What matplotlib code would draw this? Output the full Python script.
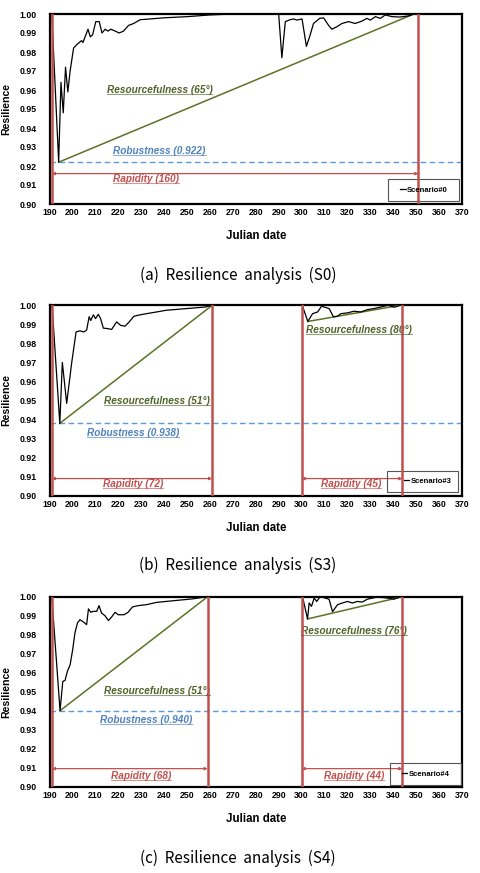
import matplotlib
matplotlib.use("Agg")
import matplotlib.pyplot as plt
from matplotlib.lines import Line2D
from matplotlib.patches import Rectangle

plt.rcParams['font.family'] = ['Liberation Sans', 'DejaVu Sans']

# ---------------- data ----------------
s0_day = [191, 194, 195, 196, 197, 198, 199, 200.5, 202, 204, 204.6, 206.8, 207.8, 208.8,
          210.2, 211.7, 212.9, 214.3, 215.5, 216.8, 218.7, 220.4, 222.3, 224.5, 226.7, 229.6,
          235, 240, 250, 260, 270, 290, 291.4, 292.9, 295, 296.5, 298, 300.2, 302.1, 303.5,
          305.2, 307.9, 309.6, 311.8, 313.2, 315.4, 317.6, 320.5, 323.4, 326.4, 328.5, 330,
          332.2, 334.4, 336.5, 339.5, 343, 346.7, 349]
s0_val = [1.000, 0.922, 0.964, 0.948, 0.972, 0.959, 0.970, 0.982, 0.984, 0.986, 0.985, 0.992,
          0.988, 0.989, 0.996, 0.996, 0.990, 0.992, 0.991, 0.992, 0.991, 0.990, 0.991, 0.994,
          0.995, 0.997, 0.9975, 0.998, 0.9986, 0.9995, 1.0, 1.0, 0.977, 0.996, 0.997, 0.9974,
          0.9968, 0.9974, 0.983, 0.988, 0.995, 0.9977, 0.998, 0.994, 0.992, 0.9933, 0.995,
          0.996, 0.995, 0.9963, 0.9977, 0.9968, 0.9986, 0.9977, 0.9995, 0.9986, 0.9984, 0.999, 1.0]

s3_day = [191, 191.5, 194.5, 195.6, 197.5, 199.7, 201.6, 203.3, 205, 206.2, 207.3, 208, 209.1,
          210.1, 211.3, 212.3, 213.5, 215.2, 217.1, 219.3, 221, 222.9, 224.8, 226.8, 228.7,
          232.3, 236.7, 241, 250, 258, 261, 300.3, 302.7, 304.8, 307, 308.7, 312, 313.9, 315.6,
          317.1, 320, 322.9, 325.8, 328.7, 331.6, 334.5, 337.7, 340.5, 343]
s3_val = [1.000, 0.993, 0.938, 0.970, 0.9485, 0.970, 0.986, 0.9866, 0.986, 0.987, 0.994, 0.992,
          0.995, 0.993, 0.9953, 0.993, 0.988, 0.9878, 0.9873, 0.9913, 0.9895, 0.989, 0.9913,
          0.9942, 0.9948, 0.9956, 0.9965, 0.9974, 0.9983, 0.9991, 1.0, 1.0, 0.9915, 0.9956,
          0.9965, 0.9995, 0.9983, 0.994, 0.9942, 0.9956, 0.996, 0.9969, 0.9965, 0.9977, 0.9983,
          0.9991, 1.0, 0.999, 1.0]

s4_day = [191, 194.6, 195.8, 196.8, 197.8, 199, 200.1, 201.1, 202.2, 203.3, 204.8, 206.2, 207,
          208, 209.1, 210.6, 211.6, 212.7, 214.2, 215.7, 217.1, 218.6, 220, 222.5, 224.3, 226.2,
          228.7, 232.3, 236.7, 245, 252, 259, 300.4, 302.6, 303.3, 304.3, 305.5, 306.6, 308.1,
          312, 313.5, 315.7, 317.8, 320, 322.2, 324.3, 326.5, 328.7, 333, 337.4, 340.3, 343.2]
s4_val = [1.000, 0.940, 0.9554, 0.956, 0.9607, 0.9642, 0.972, 0.9809, 0.9862, 0.9879, 0.9867,
          0.9853, 0.9936, 0.9918, 0.9923, 0.9923, 0.9953, 0.9914, 0.990, 0.9875, 0.9893, 0.9918,
          0.9905, 0.9905, 0.9918, 0.9946, 0.9953, 0.9958, 0.997, 0.998, 0.9988, 1.0, 1.0, 0.9883,
          0.9967, 0.9949, 0.9993, 0.9975, 1.0, 0.9987, 0.9921, 0.9958, 0.9967, 0.9975, 0.9967,
          0.9975, 0.9972, 0.9987, 0.9998, 0.9993, 0.9987, 1.0]

scenario_names = ['Scenario#0', 'Scenario#3', 'Scenario#4']
captions = ['(a)  Resilience  analysis  (S0)', '(b)  Resilience  analysis  (S3)',
            '(c)  Resilience  analysis  (S4)']
robustness = [0.922, 0.938, 0.940]
# recovery windows (start, end) in julian date, rapidity in days
rapid_a = [(191, 351)]
rapid_b = [(191, 261), (300, 344)]
rapid_c = [(191, 259), (300, 344)]
rapid_days = [[160], [72, 45], [68, 44]]
# resourcefulness lines (x0, y0, x1, y1) and angle
res_a = [(194, 0.922, 349, 1.0)]
res_b = [(194.5, 0.938, 261, 1.0), (302.7, 0.9915, 343, 1.0)]
res_c = [(194.6, 0.940, 259, 1.0), (302.6, 0.9883, 344, 1.0)]
res_deg = [[65], [51, 80], [51, 76]]

# label anchors (center x, y)
res_pos = [[(238, 0.960)], [(237, 0.950), (325, 0.987)], [(237, 0.9505), (323, 0.982)]]
rob_pos = [(238, 0.928), (226.5, 0.933), (232, 0.935)]
rap_pos = [[(232, 0.913)], [(226.5, 0.906), (321.5, 0.906)], [(230, 0.9054), (323, 0.9054)]]
rap_y = [0.916, 0.909, 0.9095]
leg_box = [(0.8206, 0.016, 0.172, 0.116), (0.818, 0.019, 0.172, 0.112), (0.8255, 0.009, 0.172, 0.116)]
leg_x = [0.908, 0.917, 0.912]

RED = '#C0504D'
GREEN = '#4F6228'
GLINE = '#5A7324'
BLUE = '#4F81BD'
BLUEL = '#5B9BD5'

fig = plt.figure(figsize=(4.8, 8.73), dpi=100)
W, H = 480.0, 873.0
axes_px = [(14, 204), (305.3, 495.7), (596.7, 786.7)]   # top, bottom in px
cap_y = [275, 565, 858]

series = [(s0_day, s0_val), (s3_day, s3_val), (s4_day, s4_val)]
rapids = [rapid_a, rapid_b, rapid_c]
ress = [res_a, res_b, res_c]

underline_me = []
FS = 7.2

for i in range(3):
    top, bot = axes_px[i]
    ax = fig.add_axes([49.5 / W, 1 - bot / H, 412.5 / W, (bot - top) / H])
    ax.set_xlim(190, 370)
    ax.set_ylim(0.90, 1.00)
    ax.set_xticks(range(190, 371, 10))
    ax.set_yticks([0.90 + 0.01 * k for k in range(11)])
    ax.set_yticklabels(['%.2f' % (0.90 + 0.01 * k) for k in range(11)])
    ax.tick_params(length=0, labelsize=6.3, pad=3)
    ax.tick_params(axis='y', pad=9)
    for lab in ax.get_xticklabels() + ax.get_yticklabels():
        lab.set_fontweight('bold')
    for sp in ax.spines.values():
        sp.set_linewidth(1.6)
        sp.set_color('black')
    ax.set_xlabel('Julian date', fontsize=8.3, fontweight='bold')
    ax.set_ylabel('Resilience', fontsize=7.6, fontweight='bold')
    ax.xaxis.set_label_coords(0.5, -0.137)
    ax.yaxis.set_label_coords(-0.093, 0.5)

    d, v = series[i]
    ln, = ax.plot(d, v, color='black', lw=0.9, zorder=4, label=scenario_names[i])

    # robustness
    ax.axhline(robustness[i], color=BLUEL, lw=1.0, ls=(0, (4, 2.5)), zorder=2)
    t = ax.text(rob_pos[i][0], rob_pos[i][1], 'Robustness (%.3f)' % robustness[i], color=BLUE,
                fontsize=FS, fontweight='bold', style='italic', ha='center', va='center')
    underline_me.append((t, BLUE))

    # rapidity
    for k, (x0, x1) in enumerate(rapids[i]):
        ax.axvline(x0, color=RED, lw=1.8, zorder=5)
        ax.axvline(x1, color=RED, lw=1.8, zorder=5)
        ax.annotate('', xy=(x0, rap_y[i]), xytext=(x1, rap_y[i]),
                    arrowprops=dict(arrowstyle='<|-|>', color=RED, lw=0.9,
                                    mutation_scale=4, shrinkA=0, shrinkB=0))
        px, py = rap_pos[i][k]
        t = ax.text(px, py, 'Rapidity (%d)' % rapid_days[i][k], color=RED, fontsize=FS,
                    fontweight='bold', style='italic', ha='center', va='center')
        underline_me.append((t, RED))

    # resourcefulness
    for k, (x0, y0, x1, y1) in enumerate(ress[i]):
        ax.plot([x0, x1], [y0, y1], color=GLINE, lw=1.1, zorder=3)
        px, py = res_pos[i][k]
        t = ax.text(px, py, 'Resourcefulness (%d°)' % res_deg[i][k], color=GREEN, fontsize=FS,
                    fontweight='bold', style='italic', ha='center', va='center')
        underline_me.append((t, GREEN))

    # legend box
    bx, by, bw, bh = leg_box[i]
    ax.add_patch(Rectangle((bx, by), bw, bh, transform=ax.transAxes, fill=False,
                           edgecolor='#555555', lw=0.8, zorder=4))
    ax.legend(handles=[ln], loc='center', bbox_to_anchor=(leg_x[i], by + bh / 2),
              frameon=False, handlelength=0.7, handletextpad=0.2,
              prop={'weight': 'bold', 'size': 5.5}).set_zorder(6)

    fig.text(238 / W, 1 - cap_y[i] / H, captions[i], ha='center', va='center',
             fontsize=11, family=['Noto Sans CJK KR', 'DejaVu Sans'])

# underline the annotation texts
fig.canvas.draw()
inv = fig.transFigure.inverted()
for t, c in underline_me:
    bb = t.get_window_extent()
    (x0, y0), (x1, _) = inv.transform([(bb.x0, bb.y0 + 1), (bb.x1, bb.y0)])
    fig.add_artist(Line2D([x0, x1], [y0, y0], color=c, lw=0.8, alpha=0.6))

fig.savefig('out.png', dpi=100)
